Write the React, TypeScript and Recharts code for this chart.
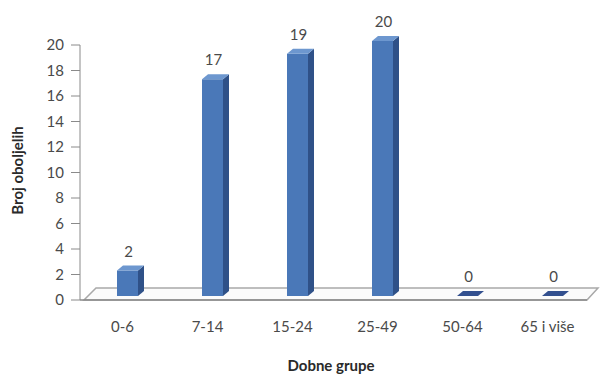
import React from "react";
import { BarChart, Bar, XAxis, YAxis, ReferenceArea, LabelList } from "recharts";

const groups = ["0-6", "7-14", "15-24", "25-49", "50-64", "65 i više"];
const cases = [2, 17, 19, 20, 0, 0];
const yTicks = [0, 2, 4, 6, 8, 10, 12, 14, 16, 18, 20];

const data = groups.map((g, i) => ({ group: g, cases: cases[i] }));

const FONT = "Lato, 'Open Sans', sans-serif";
const TEXT = "#4a4a4a";

// bar offset inside the 3d floor and the depth of each bar
const SHIFT_X = 5;
const SHIFT_Y = -4;
const DX = 6;
const DY = 5;

function Bar3D(props: any) {
  const { x, y, width, height } = props;
  const fx = x + SHIFT_X;
  const top = y + SHIFT_Y;
  const bottom = y + height + SHIFT_Y;
  if (!height || height < 1) {
    return (
      <polygon
        points={`${fx},${bottom} ${fx + width},${bottom} ${fx + width + DX},${bottom - DY} ${fx + DX},${bottom - DY}`}
        fill="#33508f"
      />
    );
  }
  return (
    <g>
      <rect x={fx} y={top} width={width} height={bottom - top} fill="#4a78b8" />
      <polygon
        points={`${fx + width},${top} ${fx + width + DX},${top - DY} ${fx + width + DX},${bottom - DY} ${fx + width},${bottom}`}
        fill="#2f5188"
      />
      <polygon
        points={`${fx},${top} ${fx + width},${top} ${fx + width + DX},${top - DY} ${fx + DX},${top - DY}`}
        fill="#6d97cf"
      />
    </g>
  );
}

// floor plane under the bars, anchored on the zero line
function Floor(props: any) {
  const { x, y, width, height } = props;
  const x1 = x;
  const x2 = x + width;
  const y0 = y + height;
  return (
    <g>
      <polygon
        points={`${x1 + 4},${y0} ${x2 - 3},${y0} ${x2 + 8},${y0 - 12} ${x1 + 16},${y0 - 12}`}
        fill="#fbfbfb"
        stroke="#a9a9a9"
        strokeWidth={1.5}
      />
      <line x1={x1} y1={y0} x2={x2 - 3} y2={y0} stroke="#8a8a8a" strokeWidth={1.5} />
    </g>
  );
}

function ValueLabel(props: any) {
  const { x, y, width, value } = props;
  return (
    <text
      x={x + width / 2 + SHIFT_X + 1}
      y={y + SHIFT_Y - DY - 9}
      textAnchor="middle"
      fontFamily={FONT}
      fontSize={15}
      fill={TEXT}
    >
      {value}
    </text>
  );
}

export default function App() {
  return (
    <div style={{ width: 601, height: 376, background: "#fff" }}>
      <style>{"body{margin:0}"}</style>
      <BarChart
        width={601}
        height={376}
        data={data}
        margin={{ top: 45, right: 11, left: 0, bottom: 0 }}
        barSize={21}
      >
        <XAxis
          dataKey="group"
          height={76}
          axisLine={false}
          tickLine={false}
          tickMargin={15}
          tick={{ fill: TEXT, fontSize: 15, fontFamily: FONT }}
          label={{
            value: "Dobne grupe",
            position: "insideBottom",
            offset: 5,
            dx: -4,
            fill: "#2a2a2a",
            fontSize: 15,
            fontWeight: 700,
            fontFamily: FONT,
          }}
        />
        <YAxis
          width={80}
          domain={[0, 20]}
          ticks={yTicks}
          interval={0}
          stroke="#8a8a8a"
          tickSize={9}
          tickMargin={7}
          tick={{ fill: TEXT, fontSize: 15, fontFamily: FONT }}
          label={{
            value: "Broj oboljelih",
            angle: -90,
            position: "center",
            dx: -22,
            dy: -2,
            fill: "#2a2a2a",
            fontSize: 15,
            fontWeight: 700,
            fontFamily: FONT,
          }}
        />
        <ReferenceArea y1={0} y2={1} shape={<Floor />} ifOverflow="visible" />
        <Bar dataKey="cases" shape={<Bar3D />} isAnimationActive={false}>
          <LabelList dataKey="cases" content={<ValueLabel />} />
        </Bar>
      </BarChart>
    </div>
  );
}
